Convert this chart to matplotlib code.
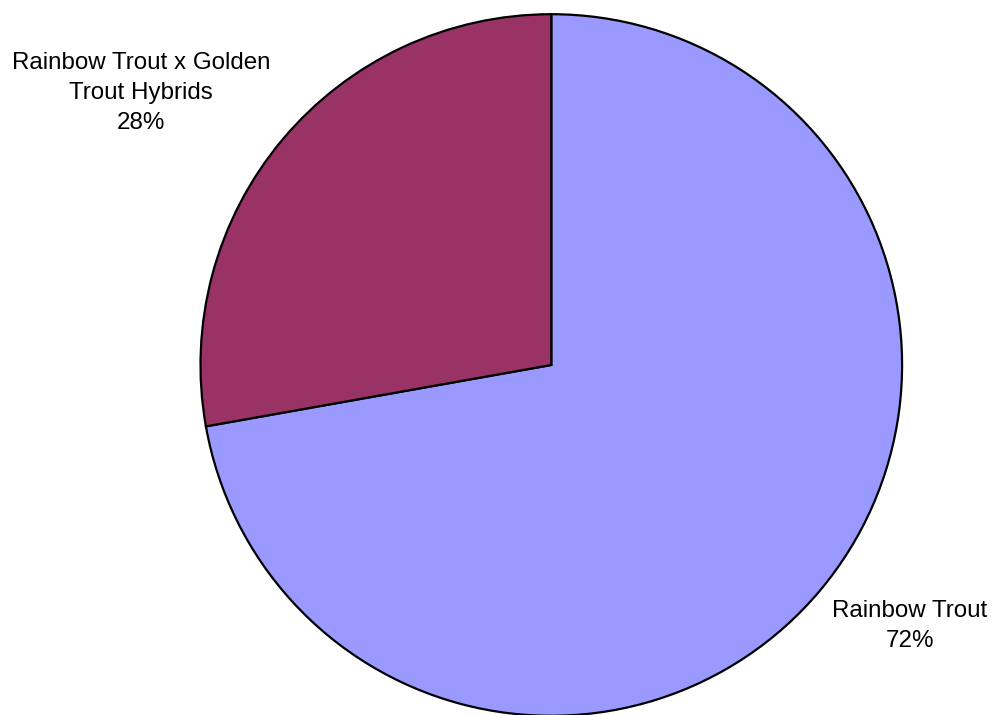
import matplotlib
matplotlib.use("Agg")
import matplotlib.pyplot as plt

# slice data, clockwise from 12 o'clock
species = ['Rainbow Trout', 'Rainbow Trout x Golden\nTrout Hybrids']
percent = [72.2, 27.8]
colors = ['#9999FF', '#993366']

# label centres in axes data units (pie radius = 1)
label_pos = [(1.022, -0.744), (-1.170, 0.775)]

plt.rcParams['font.family'] = ['Liberation Sans', 'DejaVu Sans']

W, H = 997, 715
fig = plt.figure(figsize=(W / 100, H / 100), dpi=100)

cx, cy, r = 551.3, 365.0, 350.8
ax = fig.add_axes([(cx - r) / W, (H - cy - r) / H, 2 * r / W, 2 * r / H])

ax.pie(percent, colors=colors, startangle=90, counterclock=False,
       radius=1.0, center=(0, 0),
       wedgeprops={'edgecolor': 'black', 'linewidth': 1.6})
ax.set_xlim(-1, 1)
ax.set_ylim(-1, 1)
ax.set_aspect('auto')
ax.axis('off')

for name, p, (x, y) in zip(species, percent, label_pos):
    ax.text(x, y, '%s\n%.0f%%' % (name, p), ha='center', va='center',
            fontsize=17.4, linespacing=1.45, clip_on=False)

fig.savefig('out.png', dpi=100)
